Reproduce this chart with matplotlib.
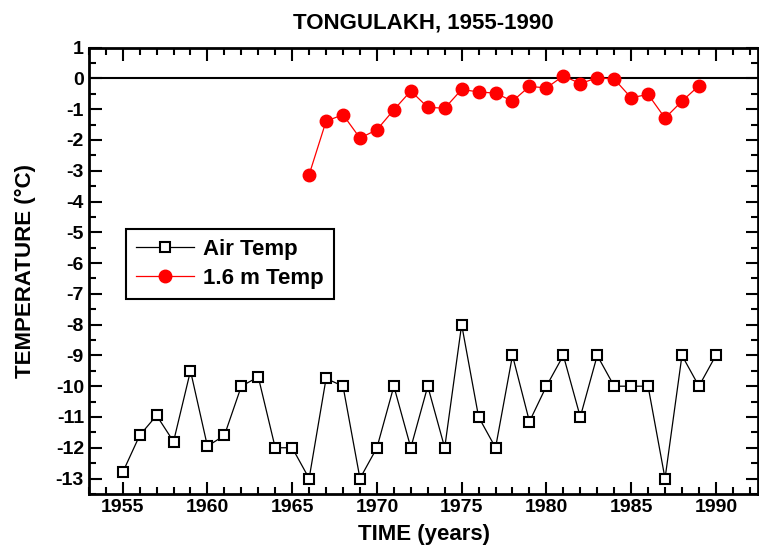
import matplotlib.pyplot as plt
from matplotlib.ticker import MultipleLocator

plt.rcParams['font.family'] = ['Liberation Sans', 'DejaVu Sans']
plt.rcParams['font.weight'] = 'bold'
plt.rcParams['axes.unicode_minus'] = False

years_air = list(range(1955, 1991))
air_temp = [-12.8, -11.6, -10.95, -11.8, -9.5, -11.95, -11.6, -10.0, -9.7, -12.0,
            -12.0, -13.0, -9.75, -10.0, -13.0, -12.0, -10.0, -12.0, -10.0, -12.0,
            -8.0, -11.0, -12.0, -9.0, -11.15, -10.0, -9.0, -11.0, -9.0, -10.0,
            -10.0, -10.0, -13.0, -9.0, -10.0, -9.0]

years_soil = list(range(1966, 1990))
soil_temp = [-3.13, -1.39, -1.18, -1.94, -1.67, -1.02, -0.41, -0.94, -0.97, -0.36,
             -0.44, -0.48, -0.74, -0.26, -0.31, 0.08, -0.17, 0.02, -0.02, -0.63,
             -0.52, -1.29, -0.74, -0.24]

fig = plt.figure(figsize=(7.59, 5.6), dpi=100)
ax = fig.add_axes([0.117, 0.118, 0.882, 0.797])

ax.axhline(0, color='black', lw=1.5, zorder=1)
ax.plot(years_air, air_temp, color='black', lw=0.9, marker='s', ms=7.5,
        mfc='white', mec='black', mew=1.5, label='Air Temp', zorder=3)
ax.plot(years_soil, soil_temp, color='red', lw=0.9, marker='o', ms=9,
        mfc='red', mec='red', label='1.6 m Temp', zorder=4)

ax.set_xlim(1953, 1992.5)
ax.set_ylim(-13.5, 1)
ax.xaxis.set_major_locator(MultipleLocator(5))
ax.xaxis.set_minor_locator(MultipleLocator(1))
ax.yaxis.set_major_locator(MultipleLocator(1))
ax.yaxis.set_minor_locator(MultipleLocator(0.5))
ax.tick_params(which='both', direction='in', top=True, right=True, width=1.5,
               labelsize=14)
ax.tick_params(which='major', length=9)
ax.tick_params(which='minor', length=5)
for s in ax.spines.values():
    s.set_linewidth(2)

ax.set_xlabel('TIME (years)', fontsize=16, fontweight='bold', labelpad=6)
ax.set_ylabel('TEMPERATURE (°C)', fontsize=16, fontweight='bold', labelpad=14)
ax.set_title('TONGULAKH, 1955-1990', fontsize=16, fontweight='bold', pad=14)

leg = ax.legend(loc='upper left', bbox_to_anchor=(0.056, 0.593), fontsize=16,
                fancybox=False, edgecolor='black', framealpha=1,
                handlelength=2.6, handletextpad=0.4, borderpad=0.45,
                labelspacing=0.35, borderaxespad=0)
leg.get_frame().set_linewidth(1.5)

fig.savefig('out.png', dpi=100)
